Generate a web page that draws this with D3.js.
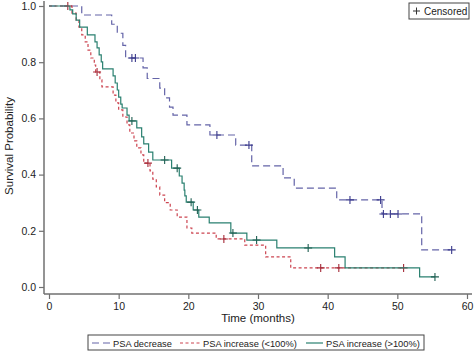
<!DOCTYPE html>
<meta charset="utf-8">
<script src="https://d3js.org/d3.v7.min.js"></script>
<style>
  body { margin: 0; background: #fff; }
  text { font-family: Arial, "Liberation Sans", sans-serif; }
</style>
<div id="my_dataviz"></div>
<script>
// Kaplan-Meier step data (time in months, survival after the drop)
var decreaseTimes = [0, 4.7, 9.0, 9.8, 10.6, 11.0, 13.5, 14.1, 15.9, 16.6, 17.3, 17.8, 19.8, 23.1, 26.8, 29.1, 33.6, 35.2, 41.3, 47.8, 53.5];
var decreaseSurv  = [1.0, 0.968, 0.935, 0.903, 0.86, 0.815, 0.78, 0.742, 0.708, 0.673, 0.64, 0.612, 0.577, 0.541, 0.505, 0.431, 0.388, 0.352, 0.310, 0.260, 0.132];
var decreaseCensor = [11.9, 12.4, 24.1, 28.7, 43.2, 47.6, 48.0, 49.0, 50.1, 57.8];

var lowTimes = [0, 3.3, 3.9, 4.3, 4.7, 5.2, 5.6, 6.0, 6.5, 6.7, 7.3, 7.6, 9.2, 9.6, 10.0, 10.6, 11.2, 11.6, 12.2, 12.6, 13.2, 13.6, 14.5, 14.9, 15.4, 15.9, 16.6, 17.4, 18.4, 19.8, 20.5, 24.0, 28.1, 31.1, 34.7];
var lowSurv  = [1.0, 0.975, 0.950, 0.925, 0.897, 0.872, 0.843, 0.815, 0.790, 0.765, 0.737, 0.712, 0.683, 0.655, 0.630, 0.605, 0.577, 0.548, 0.520, 0.495, 0.470, 0.441, 0.413, 0.384, 0.356, 0.327, 0.300, 0.274, 0.249, 0.210, 0.192, 0.171, 0.149, 0.107, 0.068];
var lowCensor = [2.7, 6.9, 14.2, 25.1, 39.0, 41.6, 50.9];

var highTimes = [0, 3.0, 3.4, 3.9, 4.4, 5.5, 6.6, 6.9, 7.2, 7.5, 7.7, 9.2, 9.5, 9.8, 10.0, 10.3, 10.5, 11.2, 11.5, 12.6, 13.3, 13.6, 14.3, 14.9, 17.6, 18.7, 19.1, 19.4, 19.5, 19.7, 20.7, 21.5, 23.0, 26.1, 28.4, 32.7, 41.0, 42.5, 53.2];
var highSurv  = [1.0, 0.986, 0.972, 0.950, 0.925, 0.897, 0.872, 0.851, 0.826, 0.801, 0.776, 0.751, 0.726, 0.701, 0.676, 0.651, 0.637, 0.612, 0.591, 0.566, 0.534, 0.509, 0.480, 0.452, 0.423, 0.395, 0.370, 0.345, 0.324, 0.302, 0.274, 0.249, 0.228, 0.192, 0.167, 0.139, 0.107, 0.068, 0.036];
var highCensor = [11.9, 16.6, 18.4, 20.4, 21.3, 26.4, 29.8, 37.2, 55.4];

var seriesNames = ["PSA decrease", "PSA increase (<100%)", "PSA increase (>100%)"];
var xTicks = [0, 10, 20, 30, 40, 50, 60];
var yTicks = [0, 0.2, 0.4, 0.6, 0.8, 1.0];

var series = [
  {name: seriesNames[0], t: decreaseTimes, s: decreaseSurv, c: decreaseCensor, color: "#6464a8", mark: "#3a3a8c", dash: "7,4"},
  {name: seriesNames[1], t: lowTimes, s: lowSurv, c: lowCensor, color: "#cc4450", mark: "#a52a38", dash: "3,2.5"},
  {name: seriesNames[2], t: highTimes, s: highSurv, c: highCensor, color: "#2a8070", mark: "#1f5f52", dash: null}
];

var width = 474, height = 351;
var svg = d3.select("#my_dataviz").append("svg")
  .attr("width", width).attr("height", height);

var x = d3.scaleLinear().domain([0, 60]).range([49, 467]);
var y = d3.scaleLinear().domain([0, 1]).range([287, 6]);
var axisColor = "#707070";

// survival value at a time (step function lookup)
function survAt(sr, time) {
  var i = d3.bisectRight(sr.t, time) - 1;
  return sr.s[Math.max(i, 0)];
}

// Y axis
var yAxis = svg.append("g")
  .attr("transform", "translate(44,0)")
  .call(d3.axisLeft(y).tickValues(yTicks).tickFormat(d3.format(".1f")).tickSize(5).tickPadding(3));
yAxis.select(".domain").remove();
yAxis.append("line").attr("x1", 0).attr("x2", 0).attr("y1", 1).attr("y2", 294)
  .attr("stroke", axisColor).attr("stroke-width", 1.5);

// X axis
var xAxis = svg.append("g")
  .attr("transform", "translate(0,294)")
  .call(d3.axisBottom(x).tickValues(xTicks).tickSize(5).tickPadding(4));
xAxis.select(".domain").remove();
xAxis.append("line").attr("x1", 44).attr("x2", 472).attr("y1", 0).attr("y2", 0)
  .attr("stroke", axisColor).attr("stroke-width", 1.5);

svg.selectAll(".tick line").attr("stroke", axisColor).attr("stroke-width", 1.2);
svg.selectAll(".tick text").attr("fill", "#222").style("font-size", "10.5px");

// axis titles
svg.append("text")
  .attr("transform", "translate(13,146) rotate(-90)")
  .attr("text-anchor", "middle")
  .style("font-size", "11.5px").attr("fill", "#222")
  .text("Survival Probability");
svg.append("text")
  .attr("x", 258).attr("y", 322)
  .attr("text-anchor", "middle")
  .style("font-size", "11.5px").attr("fill", "#222")
  .text("Time (months)");

// curves
series.forEach(function(sr) {
  var last = d3.max(sr.c.concat(sr.t));
  var pts = sr.t.map(function(t, i) { return [t, sr.s[i]]; });
  pts.push([last, sr.s[sr.s.length - 1]]);
  var line = d3.line().x(function(d) { return x(d[0]); }).y(function(d) { return y(d[1]); })
    .curve(d3.curveStepAfter);
  svg.append("path")
    .datum(pts)
    .attr("d", line)
    .attr("fill", "none")
    .attr("stroke", sr.color)
    .attr("stroke-width", 1.2)
    .attr("stroke-dasharray", sr.dash);

  svg.append("g").selectAll("path")
    .data(sr.c)
    .enter().append("path")
      .attr("d", function(t) {
        var cx = x(t), cy = y(survAt(sr, t));
        return "M" + (cx - 4) + "," + cy + "H" + (cx + 4) + "M" + cx + "," + (cy - 4) + "V" + (cy + 4);
      })
      .attr("stroke", sr.mark)
      .attr("stroke-width", 1.1);
});

// censored legend
var cl = svg.append("g").attr("transform", "translate(409,3)");
cl.append("rect").attr("width", 60).attr("height", 16)
  .attr("fill", "#fff").attr("stroke", "#444").attr("stroke-width", 1);
cl.append("path").attr("d", "M4,8H11M7.5,4.5V11.5").attr("stroke", "#333").attr("stroke-width", 1);
cl.append("text").attr("x", 15).attr("y", 12).style("font-size", "10px").attr("fill", "#222").text("Censored");

// series legend
var lg = svg.append("g").attr("transform", "translate(88,335)");
lg.append("rect").attr("width", 336).attr("height", 15)
  .attr("fill", "#fff").attr("stroke", "#444").attr("stroke-width", 1);
var legendX = [[4, 22, 25], [92, 112, 115], [218, 235, 238]];
series.forEach(function(sr, i) {
  lg.append("line").attr("x1", legendX[i][0]).attr("x2", legendX[i][1]).attr("y1", 8).attr("y2", 8)
    .attr("stroke", sr.color).attr("stroke-width", 1.2).attr("stroke-dasharray", sr.dash);
  lg.append("text").attr("x", legendX[i][2]).attr("y", 11.5)
    .style("font-size", "9.3px").attr("fill", "#222").text(sr.name);
});
</script>
